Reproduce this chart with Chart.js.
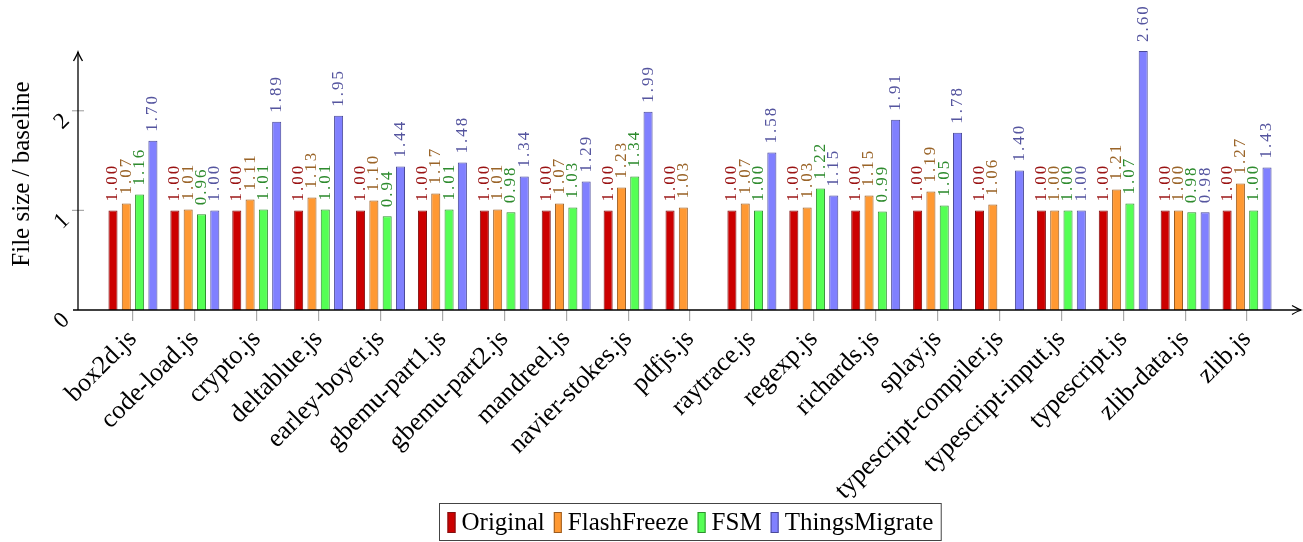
<!DOCTYPE html>
<html>
<head>
<meta charset="utf-8">
<script src="https://cdn.jsdelivr.net/npm/chart.js@4.4.1/dist/chart.umd.min.js"></script>
<style>
  body { margin: 0; background: #fff; }
</style>
</head>
<body>
<canvas id="myChart" width="1303" height="542"></canvas>
<script>
// benchmarks
let categories = ["box2d.js", "code-load.js", "crypto.js", "deltablue.js", "earley-boyer.js",
  "gbemu-part1.js", "gbemu-part2.js", "mandreel.js", "navier-stokes.js", "pdfjs.js",
  "raytrace.js", "regexp.js", "richards.js", "splay.js", "typescript-compiler.js",
  "typescript-input.js", "typescript.js", "zlib-data.js", "zlib.js"];

let seriesNames = ["Original", "FlashFreeze", "FSM", "ThingsMigrate"];

let original      = [1.00, 1.00, 1.00, 1.00, 1.00, 1.00, 1.00, 1.00, 1.00, 1.00, 1.00, 1.00, 1.00, 1.00, 1.00, 1.00, 1.00, 1.00, 1.00];
let flashFreeze   = [1.07, 1.01, 1.11, 1.13, 1.10, 1.17, 1.01, 1.07, 1.23, 1.03, 1.07, 1.03, 1.15, 1.19, 1.06, 1.00, 1.21, 1.00, 1.27];
let fsm           = [1.16, 0.96, 1.01, 1.01, 0.94, 1.01, 0.98, 1.03, 1.34, null, 1.00, 1.22, 0.99, 1.05, null, 1.00, 1.07, 0.98, 1.00];
let thingsMigrate = [1.70, 1.00, 1.89, 1.95, 1.44, 1.48, 1.34, 1.29, 1.99, null, 1.58, 1.15, 1.91, 1.78, 1.40, 1.00, 2.60, 0.98, 1.43];

let yTicks = [0, 1, 2];

let fillColors   = ["#cc0000", "#ff9933", "#55ff55", "#8080ff"];
let borderColors = ["#7f1010", "#9a5c22", "#2f8f2f", "#4a4a99"];
let labelColors  = ["#991111", "#9a6428", "#2e8b2e", "#55559f"];

const serif = "'Liberation Serif', 'DejaVu Serif', serif";

function arrowHead(ctx, x, y, dir) {
  // dir: 'right' or 'up'
  ctx.beginPath();
  if (dir == "right") {
    ctx.moveTo(x - 9, y - 4.5);
    ctx.quadraticCurveTo(x - 3, y - 1, x, y);
    ctx.quadraticCurveTo(x - 3, y + 1, x - 9, y + 4.5);
  } else {
    ctx.moveTo(x - 4.5, y + 9);
    ctx.quadraticCurveTo(x - 1, y + 3, x, y);
    ctx.quadraticCurveTo(x + 1, y + 3, x + 4.5, y + 9);
  }
  ctx.stroke();
}

const axesPlugin = {
  id: "axesPlugin",
  afterDatasetsDraw(chart) {
    const ctx = chart.ctx;
    const area = chart.chartArea;
    const yScale = chart.scales.y;
    const axisX = area.left - 24;
    const axisY = area.bottom;
    const right = 1301;

    ctx.save();
    // y tick marks
    ctx.strokeStyle = "#aaaaaa";
    ctx.lineWidth = 1.2;
    yTicks.forEach((t) => {
      if (t == 0) return;
      const py = yScale.getPixelForValue(t);
      ctx.beginPath();
      ctx.moveTo(axisX - 6, py);
      ctx.lineTo(axisX + 6, py);
      ctx.stroke();
    });

    ctx.strokeStyle = "#000";
    ctx.lineWidth = 1.3;
    ctx.beginPath();
    ctx.moveTo(axisX - 5, axisY);
    ctx.lineTo(right, axisY);
    ctx.stroke();
    arrowHead(ctx, right, axisY, "right");

    ctx.beginPath();
    ctx.moveTo(axisX, axisY);
    ctx.lineTo(axisX, area.top + 4);
    ctx.stroke();
    arrowHead(ctx, axisX, area.top + 4, "up");

    // y tick labels, rotated
    ctx.fillStyle = "#000";
    ctx.font = "23px " + serif;
    ctx.textAlign = "center";
    ctx.textBaseline = "middle";
    yTicks.forEach((t) => {
      const py = yScale.getPixelForValue(t);
      ctx.save();
      ctx.translate(axisX - 16, py + 11);
      ctx.rotate(-Math.PI / 4);
      ctx.fillText(String(t), 0, 0);
      ctx.restore();
    });

    // y title
    ctx.save();
    ctx.translate(22, 174);
    ctx.rotate(-Math.PI / 2);
    ctx.font = "25px " + serif;
    ctx.fillText("File size / baseline", 0, 0);
    ctx.restore();

    // values above the bars
    ctx.font = "17px " + serif;
    ctx.letterSpacing = "2px";
    ctx.textAlign = "left";
    chart.data.datasets.forEach((ds, di) => {
      const meta = chart.getDatasetMeta(di);
      meta.data.forEach((bar, i) => {
        const v = ds.data[i];
        if (v == null) return;
        ctx.save();
        ctx.translate(bar.x, bar.y - 9);
        ctx.rotate(-Math.PI / 2);
        ctx.fillStyle = labelColors[di];
        ctx.fillText(v.toFixed(2), 0, 0);
        ctx.restore();
      });
    });
    ctx.letterSpacing = "0px";

    // legend box
    ctx.font = "25px " + serif;
    ctx.textBaseline = "middle";
    const sw = 8, gapAfterSwatch = 6, gapItem = 9, pad = 8;
    let total = 0;
    seriesNames.forEach((n, i) => {
      total += sw + gapAfterSwatch + ctx.measureText(n).width;
      if (i < seriesNames.length - 1) total += gapItem;
    });
    const boxW = total + pad * 2;
    const cx = (axisX + right) / 2;
    const bx = Math.round(cx - boxW / 2) + 0.5;
    const by = 503.5, bh = 37;
    ctx.strokeStyle = "#444";
    ctx.lineWidth = 1;
    ctx.fillStyle = "#fff";
    ctx.fillRect(bx, by, boxW, bh);
    ctx.strokeRect(bx, by, boxW, bh);
    let x = bx + pad;
    const my = by + bh / 2;
    seriesNames.forEach((n, i) => {
      ctx.fillStyle = fillColors[i];
      ctx.strokeStyle = borderColors[i];
      ctx.fillRect(x, my - 10, sw, 21);
      ctx.strokeRect(x + 0.5, my - 9.5, sw - 1, 20);
      x += sw + gapAfterSwatch;
      ctx.fillStyle = "#000";
      ctx.fillText(n, x, my + 1);
      x += ctx.measureText(n).width + gapItem;
    });
    ctx.restore();
  }
};

const ctx = document.getElementById("myChart").getContext("2d");

const datasetValues = [original, flashFreeze, fsm, thingsMigrate];

let myChart = new Chart(ctx, {
  type: "bar",
  data: {
    labels: categories,
    datasets: datasetValues.map((vals, i) => ({
      label: seriesNames[i],
      data: vals,
      backgroundColor: fillColors[i],
      borderColor: borderColors[i],
      borderWidth: 1,
      categoryPercentage: 0.86,
      barPercentage: 0.68,
    })),
  },
  options: {
    responsive: false,
    animation: false,
    devicePixelRatio: 1,
    layout: {
      padding: { left: 102, right: 25, top: 48, bottom: 0 },
    },
    plugins: {
      legend: { display: false },
      tooltip: { enabled: false },
    },
    scales: {
      x: {
        offset: true,
        border: { display: false },
        grid: {
          offset: false,
          drawOnChartArea: false,
          tickLength: 11,
          color: "#aaaaaa",
          lineWidth: 1.2,
        },
        ticks: {
          autoSkip: false,
          minRotation: 45,
          maxRotation: 45,
          padding: 3,
          color: "#000",
          font: { family: serif, size: 26 },
        },
        afterFit: (scale) => {
          scale.height = 232;
        },
      },
      y: {
        display: false,
        min: 0,
        max: 2.63,
      },
    },
  },
  plugins: [axesPlugin],
});
</script>
</body>
</html>
